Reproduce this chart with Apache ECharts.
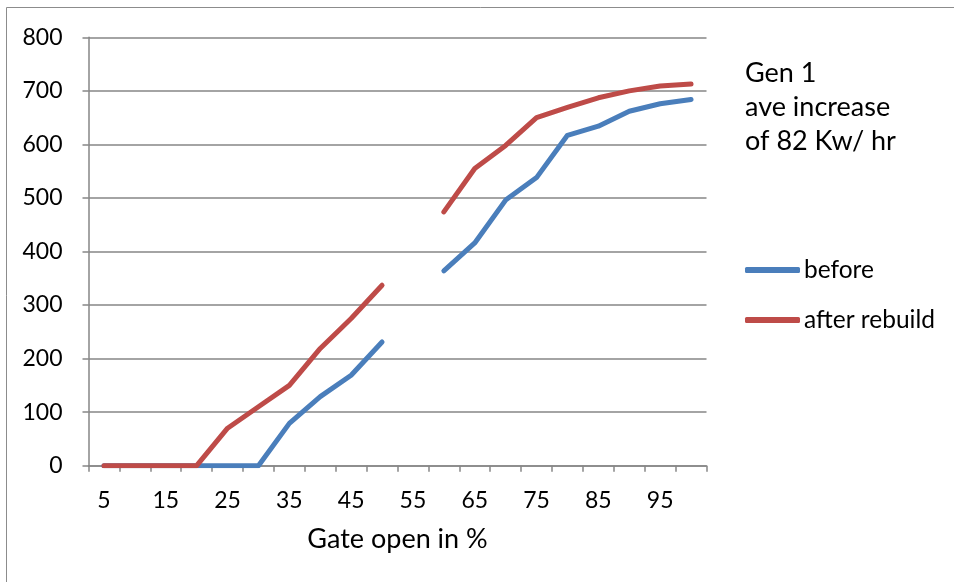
<!DOCTYPE html>
<html>
<head>
<meta charset="utf-8">
<script src="https://cdn.jsdelivr.net/npm/echarts@6/dist/echarts.min.js"></script>
<style>
html,body{margin:0;padding:0;background:#fff;}
#chart{width:954px;height:582px;}
</style>
</head>
<body>
<div id="chart"></div>
<script>
var categories = ['5','10','15','20','25','30','35','40','45','50','55','60','65','70','75','80','85','90','95','100'];
var beforeValues = [0,0,0,0,0,0,79,129,169,231,null,364,416,496,538,617,634,662,676,684];
var afterValues = [0,0,0,0,70,110,150,219,275,337,null,474,555,598,650,669,687,700,709,713];
var yTicks = [0,100,200,300,400,500,600,700,800];
var noteText = 'Gen 1\nave increase\nof 82 Kw/ hr';
var xAxisTitle = 'Gate open in %';

var FONT = 'Lato, "Open Sans", sans-serif';
var chart = echarts.init(document.getElementById('chart'), null, {renderer:'canvas'});
chart.setOption({
  backgroundColor: '#fff',
  animation: false,
  graphic: [{
    type: 'rect', shape: {x: 6.5, y: 7.5, width: 960, height: 600},
    style: {fill: 'none', stroke: '#8c8c8c', lineWidth: 1}, silent: true
  }],
  title: {
    text: noteText, left: 745, top: 56, padding: 0,
    textStyle: {fontFamily: FONT, fontSize: 27, fontWeight: 'normal', color: '#000', lineHeight: 34}
  },
  legend: {
    orient: 'vertical', left: 745, top: 257, padding: 0,
    itemWidth: 55, itemHeight: 6, itemGap: 24, icon: 'roundRect',
    textStyle: {fontFamily: FONT, fontSize: 24.5, color: '#000', lineHeight: 26, padding: [0,0,0,-1]},
    data: ['before', 'after rebuild']
  },
  grid: {left: 88.5, right: 247.5, top: 37.3, bottom: 116.3, containLabel: false},
  xAxis: {
    type: 'category', data: categories, boundaryGap: true,
    name: xAxisTitle, nameLocation: 'middle', nameGap: 60,
    nameTextStyle: {fontFamily: FONT, fontSize: 27, color: '#000', verticalAlign: 'top', lineHeight: 28},
    axisLine: {lineStyle: {color: '#868686', width: 1.5}},
    axisTick: {show: true, interval: 0, alignWithLabel: false, length: 6, lineStyle: {color: '#868686', width: 1.5}},
    axisLabel: {interval: 1, fontFamily: FONT, fontSize: 23, color: '#000', margin: 23},
    splitLine: {show: false}
  },
  yAxis: {
    type: 'value', min: 0, max: 800, interval: 100,
    axisLine: {show: true, lineStyle: {color: '#868686', width: 1.5}},
    axisTick: {show: true, length: 6, lineStyle: {color: '#868686', width: 1.5}},
    axisLabel: {fontFamily: FONT, fontSize: 23, color: '#000', margin: 26,
      formatter: function(v){ return yTicks.indexOf(v) >= 0 ? String(v) : ''; }},
    splitLine: {show: true, lineStyle: {color: '#868686', width: 1.5}}
  },
  series: [
    {name: 'before', type: 'line', data: beforeValues, showSymbol: false, symbol: 'none',
     connectNulls: false, lineStyle: {color: '#4a7ebb', width: 5, cap: 'round', join: 'round'},
     itemStyle: {color: '#4a7ebb'}},
    {name: 'after rebuild', type: 'line', data: afterValues, showSymbol: false, symbol: 'none',
     connectNulls: false, lineStyle: {color: '#be4b48', width: 5, cap: 'round', join: 'round'},
     itemStyle: {color: '#be4b48'}}
  ]
});
</script>
</body>
</html>
